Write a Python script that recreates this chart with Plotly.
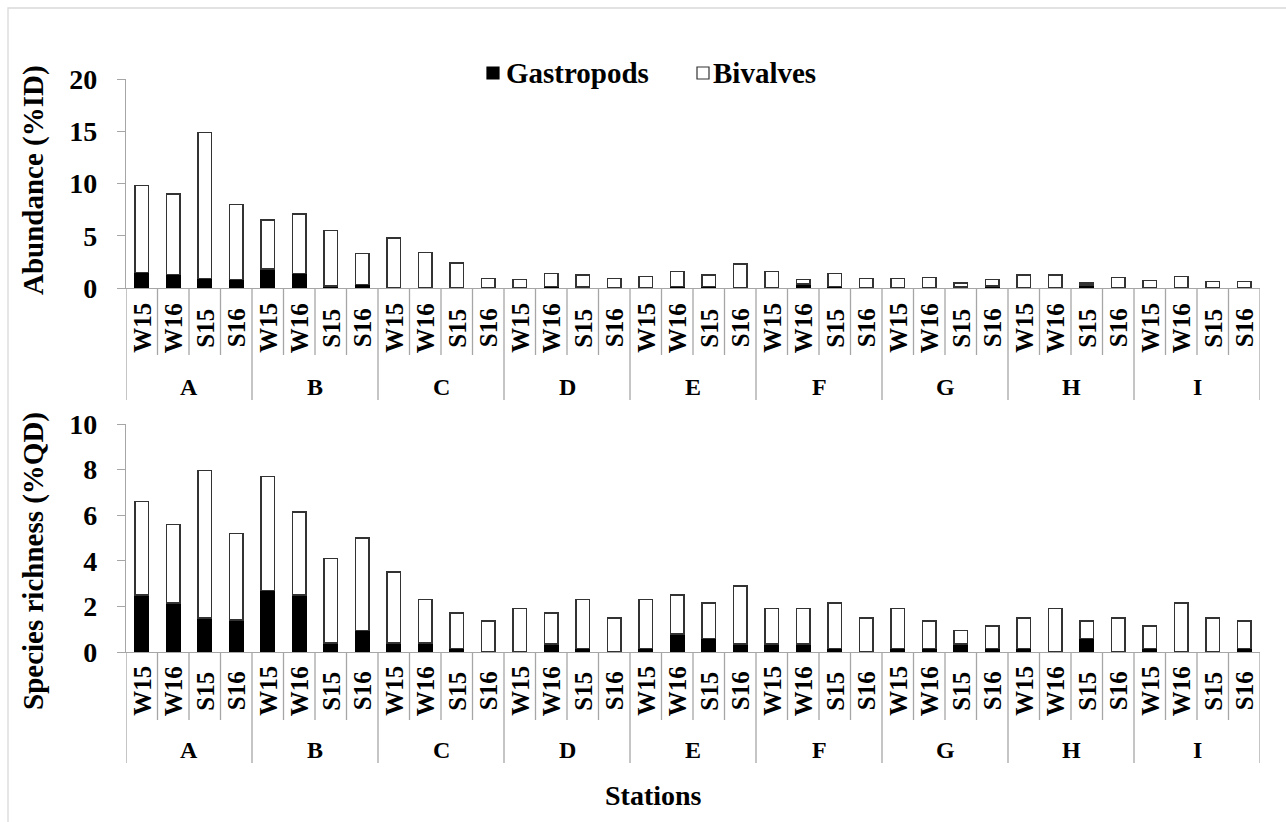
import plotly.graph_objects as go

stations = ["A", "B", "C", "D", "E", "F", "G", "H", "I"]
seasons = ["W15", "W16", "S15", "S16"]

# Abundance (%ID)
abund_gastropods = [1.5, 1.3, 0.9, 0.8, 1.8, 1.4, 0.2, 0.35, 0.05, 0.05, 0.05, 0.0,
                    0.0, 0.15, 0.1, 0.0, 0.0, 0.15, 0.15, 0.0, 0.0, 0.4, 0.15, 0.0,
                    0.0, 0.0, 0.1, 0.2, 0.0, 0.0, 0.3, 0.0, 0.0, 0.0, 0.0, 0.0]
abund_bivalves = [8.3, 7.7, 14.0, 7.2, 4.7, 5.7, 5.3, 2.95, 4.75, 3.35, 2.35, 0.9,
                  0.8, 1.25, 1.15, 0.9, 1.1, 1.45, 1.1, 2.3, 1.6, 0.4, 1.25, 0.9,
                  0.9, 1.0, 0.4, 0.6, 1.25, 1.25, 0.2, 1.0, 0.7, 1.1, 0.6, 0.6]

# Species richness (%QD)
rich_gastropods = [2.5, 2.15, 1.5, 1.4, 2.7, 2.5, 0.4, 0.95, 0.4, 0.4, 0.15, 0.0,
                   0.0, 0.35, 0.15, 0.0, 0.15, 0.8, 0.6, 0.35, 0.35, 0.35, 0.15, 0.0,
                   0.15, 0.15, 0.35, 0.15, 0.15, 0.0, 0.6, 0.0, 0.15, 0.0, 0.0, 0.15]
rich_bivalves = [4.1, 3.45, 6.45, 3.8, 5.0, 3.65, 3.7, 4.05, 3.1, 1.9, 1.55, 1.35,
                 1.9, 1.35, 2.15, 1.5, 2.15, 1.7, 1.55, 2.55, 1.55, 1.55, 2.0, 1.5,
                 1.75, 1.2, 0.6, 1.0, 1.35, 1.9, 0.75, 1.5, 1.0, 2.15, 1.5, 1.2]

series_names = ["Gastropods", "Bivalves"]

cats = [f"{s} {p}" for s in stations for p in seasons]
n = len(cats)

FONT = "Liberation Serif"
AXIS_GRAY = "#a6a6a6"
OUTLINE = "#333333"
FILLS = ["black", "white"]
LINES = ["black", OUTLINE]

fig = go.Figure()

for xa, ya, g, b in [("x", "y", abund_gastropods, abund_bivalves),
                     ("x2", "y2", rich_gastropods, rich_bivalves)]:
    for k, vals in enumerate([g, b]):
        fig.add_trace(go.Bar(x=cats, y=vals, name=series_names[k], xaxis=xa, yaxis=ya,
                             marker=dict(color=FILLS[k], line=dict(color=LINES[k], width=1.5)),
                             showlegend=False))

# pixel geometry helpers (paper: 79..652 px vertically, 126..1260 px horizontally)
TOP, BOT = 79, 652
LEFT, W = 126, 1134
H = BOT - TOP
def py(p):
    return (BOT - p) / H
def px(p):
    return (p - LEFT) / W

top_domain = [py(288), 1.0]
bot_domain = [0.0, py(424)]

common_x = dict(type="category", range=[-0.5, n - 0.5], showticklabels=False,
                showline=True, linecolor=AXIS_GRAY, linewidth=1.3, ticks="",
                showgrid=False, zeroline=False, fixedrange=True)
common_y = dict(showline=True, linecolor=AXIS_GRAY, linewidth=1.3, ticks="outside",
                ticklen=8, tickcolor=AXIS_GRAY, tickwidth=1.3, showgrid=False,
                zeroline=False, ticklabelstandoff=14,
                tickfont=dict(family=FONT, size=28, color="black", weight="bold"))

fig.update_layout(
    width=1286, height=822,
    margin=dict(l=LEFT, r=1286 - LEFT - W, t=TOP, b=822 - BOT),
    paper_bgcolor="white", plot_bgcolor="white",
    barmode="stack", bargap=0.58, showlegend=False,
    xaxis=dict(common_x, anchor="y"),
    yaxis=dict(common_y, domain=top_domain, range=[0, 20], dtick=5, anchor="x"),
    xaxis2=dict(common_x, anchor="y2"),
    yaxis2=dict(common_y, domain=bot_domain, range=[0, 10], dtick=2, anchor="x2"),
    font=dict(family=FONT, color="black"),
)

shapes = []
annotations = []

panels = [
    # xref, axis px, inner-sep end, group-sep end, inner label y, group label y
    ("x", 288, 355, 400, 328, 387),
    ("x2", 652, 720, 763, 691, 750),
]
for xref, ax_px, inner_end, group_end, inner_lab, group_lab in panels:
    for i in range(n + 1):
        edge = i - 0.5
        end = group_end if i % len(seasons) == 0 else inner_end
        shapes.append(dict(type="line", xref=xref, yref="paper", x0=edge, x1=edge,
                           y0=py(ax_px), y1=py(end),
                           line=dict(color=AXIS_GRAY, width=1.3)))
    for i, c in enumerate(cats):
        annotations.append(dict(xref=xref, yref="paper", x=i, y=py(inner_lab),
                                text=c.split(" ")[1], textangle=-90, showarrow=False,
                                xanchor="center", yanchor="middle",
                                font=dict(family=FONT, size=25, color="black", weight="bold")))
    for j, s in enumerate(stations):
        annotations.append(dict(xref=xref, yref="paper",
                                x=j * len(seasons) + (len(seasons) - 1) / 2, y=py(group_lab),
                                text=s, showarrow=False, xanchor="center", yanchor="middle",
                                font=dict(family=FONT, size=24, color="black", weight="bold")))

# legend (key squares + labels)
legend_items = [(487, 504), (697, 711)]  # (square left px, text left px)
for k, (sq, tx) in enumerate(legend_items):
    shapes.append(dict(type="rect", xref="paper", yref="paper",
                       x0=px(sq), x1=px(sq + 12), y0=py(79), y1=py(67),
                       fillcolor=FILLS[k], line=dict(color=LINES[k], width=1.2)))
    annotations.append(dict(xref="paper", yref="paper", x=px(tx), y=py(73),
                            text=series_names[k], showarrow=False,
                            xanchor="left", yanchor="middle",
                            font=dict(family=FONT, size=29, color="black", weight="bold")))

# axis titles
annotations.append(dict(xref="paper", yref="paper", x=px(33), y=py(180),
                        text="Abundance (%ID)", textangle=-90, showarrow=False,
                        xanchor="center", yanchor="middle",
                        font=dict(family=FONT, size=29, color="black", weight="bold")))
annotations.append(dict(xref="paper", yref="paper", x=px(33), y=py(561),
                        text="Species richness (%QD)", textangle=-90, showarrow=False,
                        xanchor="center", yanchor="middle",
                        font=dict(family=FONT, size=29, color="black", weight="bold")))
annotations.append(dict(xref="paper", yref="paper", x=px(653), y=py(795),
                        text="Stations", showarrow=False, xanchor="center", yanchor="middle",
                        font=dict(family=FONT, size=28, color="black", weight="bold")))

# outer frame
shapes.append(dict(type="rect", xref="paper", yref="paper",
                   x0=px(8), x1=px(1290), y0=py(830), y1=py(8),
                   line=dict(color="#d9d9d9", width=1.3), fillcolor="rgba(0,0,0,0)", layer="below"))

fig.update_layout(shapes=shapes, annotations=annotations)

fig.write_html("out.html")
